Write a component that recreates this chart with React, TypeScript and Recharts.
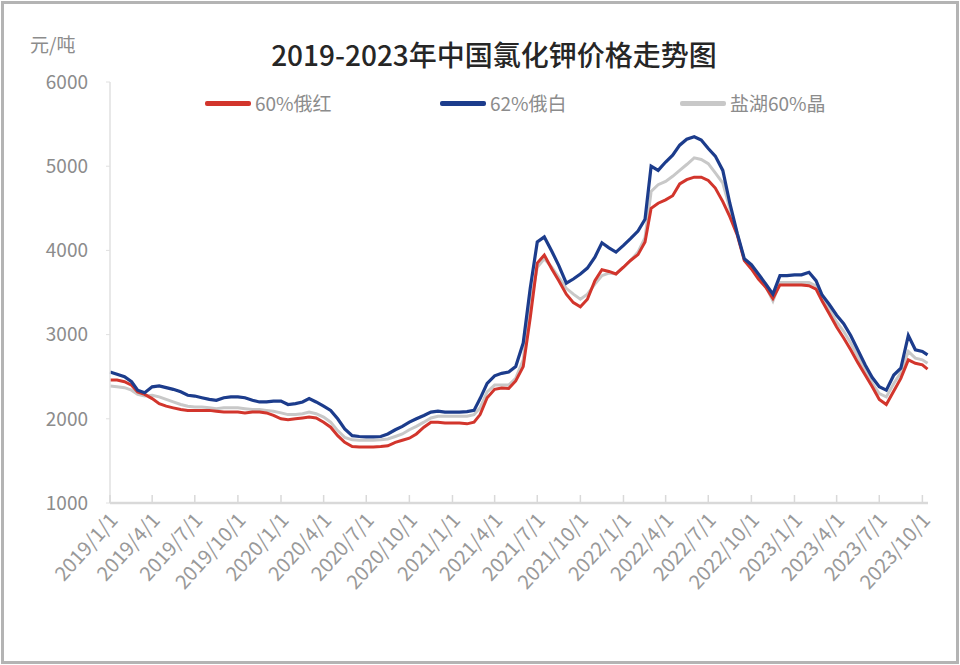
import React from "react";
import { LineChart, Line, XAxis, YAxis, Legend } from "recharts";

// half-monthly price points, 元/吨
const dates = [
  "2019-01-01","2019-01-16","2019-02-01","2019-02-16","2019-03-01","2019-03-16","2019-04-01","2019-04-16","2019-05-01","2019-05-16","2019-06-01","2019-06-16",
  "2019-07-01","2019-07-16","2019-08-01","2019-08-16","2019-09-01","2019-09-16","2019-10-01","2019-10-16","2019-11-01","2019-11-16","2019-12-01","2019-12-16",
  "2020-01-01","2020-01-16","2020-02-01","2020-02-16","2020-03-01","2020-03-16","2020-04-01","2020-04-16","2020-05-01","2020-05-16","2020-06-01","2020-06-16",
  "2020-07-01","2020-07-16","2020-08-01","2020-08-16","2020-09-01","2020-09-16","2020-10-01","2020-10-16","2020-11-01","2020-11-16","2020-12-01","2020-12-16",
  "2021-01-01","2021-01-16","2021-02-01","2021-02-16","2021-03-01","2021-03-16","2021-04-01","2021-04-16","2021-05-01","2021-05-16","2021-06-01","2021-06-16",
  "2021-07-01","2021-07-16","2021-08-01","2021-08-16","2021-09-01","2021-09-16","2021-10-01","2021-10-16","2021-11-01","2021-11-16","2021-12-01","2021-12-16",
  "2022-01-01","2022-01-16","2022-02-01","2022-02-16","2022-03-01","2022-03-16","2022-04-01","2022-04-16","2022-05-01","2022-05-16","2022-06-01","2022-06-16",
  "2022-07-01","2022-07-16","2022-08-01","2022-08-16","2022-09-01","2022-09-16","2022-10-01","2022-10-16","2022-11-01","2022-11-16","2022-12-01","2022-12-16",
  "2023-01-01","2023-01-16","2023-02-01","2023-02-16","2023-03-01","2023-03-16","2023-04-01","2023-04-16","2023-05-01","2023-05-16","2023-06-01","2023-06-16",
  "2023-07-01","2023-07-16","2023-08-01","2023-08-16","2023-09-01","2023-09-16","2023-10-01","2023-10-12",
];

// 60%俄红
const red = [
  2460,2460,2440,2400,2320,2290,2240,2180,2150,2130,2110,2100,2100,2100,2100,2090,2080,2080,2080,2070,2080,2080,2070,2040,
  2000,1990,2000,2010,2020,2010,1960,1900,1800,1720,1670,1665,1665,1665,1670,1680,1720,1745,1770,1820,1900,1960,1960,1950,
  1950,1950,1940,1960,2050,2250,2350,2365,2360,2450,2620,3200,3850,3945,3780,3640,3480,3380,3330,3420,3640,3770,3750,3720,
  3800,3880,3950,4100,4500,4560,4600,4650,4790,4840,4870,4870,4830,4740,4580,4400,4180,3880,3780,3660,3560,3430,3590,3590,
  3590,3590,3580,3540,3400,3250,3090,2960,2820,2670,2520,2380,2230,2170,2330,2480,2700,2660,2640,2590,
];

// 62%俄白
const blue = [
  2556,2530,2500,2440,2340,2310,2380,2390,2370,2350,2320,2280,2270,2250,2230,2220,2250,2260,2260,2250,2220,2200,2200,2210,
  2210,2170,2180,2200,2240,2200,2150,2100,2000,1880,1800,1790,1785,1785,1790,1820,1870,1910,1960,2000,2040,2080,2090,2080,
  2080,2080,2085,2100,2240,2420,2510,2540,2555,2620,2900,3550,4100,4160,3990,3820,3610,3660,3720,3790,3920,4090,4030,3980,
  4060,4140,4230,4370,5000,4950,5050,5130,5250,5320,5350,5310,5210,5120,4950,4560,4200,3900,3830,3720,3600,3480,3700,3700,
  3710,3710,3740,3640,3470,3360,3230,3130,2990,2820,2640,2490,2380,2340,2520,2600,2990,2820,2800,2760,
];

// 盐湖60%晶
const gray = [
  2390,2380,2370,2340,2290,2270,2280,2260,2230,2200,2170,2150,2140,2140,2130,2120,2130,2130,2130,2120,2110,2110,2100,2090,
  2070,2050,2050,2060,2080,2060,2020,1960,1860,1780,1750,1745,1745,1745,1750,1760,1790,1820,1870,1910,1960,2010,2030,2030,
  2030,2030,2030,2050,2130,2320,2400,2400,2400,2480,2700,3350,3800,3900,3800,3680,3550,3480,3420,3480,3600,3700,3730,3720,
  3800,3880,3980,4150,4700,4780,4820,4880,4950,5020,5100,5080,5030,4920,4800,4500,4200,3880,3790,3690,3570,3400,3620,3620,
  3620,3620,3620,3580,3430,3300,3150,3040,2900,2740,2580,2420,2300,2260,2420,2550,2800,2720,2700,2660,
];

const tickLabels = [
  "2019/1/1","2019/4/1","2019/7/1","2019/10/1","2020/1/1","2020/4/1","2020/7/1","2020/10/1",
  "2021/1/1","2021/4/1","2021/7/1","2021/10/1","2022/1/1","2022/4/1","2022/7/1","2022/10/1",
  "2023/1/1","2023/4/1","2023/7/1","2023/10/1",
];
const yTicks = [1000, 2000, 3000, 4000, 5000, 6000];

const series = [
  { key: "red", name: "60%俄红", color: "#d2352c" },
  { key: "blue", name: "62%俄白", color: "#1c3c8c" },
  { key: "gray", name: "盐湖60%晶", color: "#c8c8c8" },
];

const FONT = '"Noto Sans CJK SC", "Noto Sans", sans-serif';

const toDay = (s: string) => {
  const [y, m, d] = s.split(/[-/]/).map(Number);
  return (Date.UTC(y, m - 1, d) - Date.UTC(2019, 0, 1)) / 86400000;
};

const tickDays = tickLabels.map(toDay);
const endDay = toDay("2023-10-13");

const data = dates.map((d, i) => ({ t: toDay(d), red: red[i], blue: blue[i], gray: gray[i] }));

const XTick = (props: any) => {
  const { x, y, payload } = props;
  const idx = tickDays.indexOf(payload.value);
  const label = idx >= 0 ? tickLabels[idx] : "";
  const tx = x + 9;
  const ty = y + 18;
  return (
    <g>
      <line x1={x} x2={x} y1={y} y2={y - 8} stroke="#d9d9d9" strokeWidth={1.5} />
      <text x={tx} y={ty} transform={`rotate(-48, ${tx}, ${ty})`} textAnchor="end" fill="#999999" fontSize={20} fontFamily={FONT}>
        {label}
      </text>
    </g>
  );
};

const legendPos = [205, 440, 680];

const LegendContent = () => (
  <div style={{ position: "relative", width: 960, height: 26 }}>
    {series.map((s, i) => (
      <div key={s.key} style={{ position: "absolute", left: legendPos[i], top: 0, display: "flex", alignItems: "center", height: 26 }}>
        <div style={{ width: 46, height: 5, background: s.color, borderRadius: 2, marginRight: 4 }} />
        <span style={{ fontFamily: FONT, fontSize: 19, color: "#8c8c8c", lineHeight: "26px" }}>{s.name}</span>
      </div>
    ))}
  </div>
);

export default function App() {
  return (
    <div style={{ position: "absolute", left: 0, top: 0, width: 960, height: 665, background: "#fff" }}>
      <div style={{ position: "absolute", left: 1, top: 1, width: 952, height: 657, border: "3px solid #b4b4b4" }} />
      <div style={{ position: "absolute", left: 0, top: 34, width: 988, textAlign: "center", fontFamily: FONT, fontSize: 28, fontWeight: 500, color: "#262626" }}>
        2019-2023年中国氯化钾价格走势图
      </div>
      <div style={{ position: "absolute", left: 30, top: 30, fontFamily: FONT, fontSize: 19, color: "#8c8c8c" }}>元/吨</div>
      <LineChart width={960} height={665} data={data} margin={{ top: 82, right: 32, bottom: 102, left: 0 }} style={{ position: "absolute", left: 0, top: 0 }}>
        <XAxis
          type="number"
          dataKey="t"
          domain={[0, endDay]}
          ticks={tickDays}
          interval={0}
          height={60}
          tickSize={0}
          tickMargin={0}
          axisLine={{ stroke: "#d9d9d9", strokeWidth: 2.5 }}
          tickLine={false}
          tick={<XTick />}
        />
        <YAxis
          domain={[1000, 6000]}
          ticks={yTicks}
          interval={0}
          width={110}
          tickSize={4}
          tickMargin={18}
          axisLine={{ stroke: "#e0e0e0", strokeWidth: 1.5 }}
          tickLine={{ stroke: "#e0e0e0" }}
          tick={{ fill: "#8c8c8c", fontSize: 19, fontFamily: FONT }}
        />
        <Legend verticalAlign="middle" align="center" layout="horizontal" content={<LegendContent />} wrapperStyle={{ top: 90, left: 0, width: 960 }} />
        <Line type="linear" dataKey="gray" stroke="#c8c8c8" strokeWidth={3} dot={false} isAnimationActive={false} />
        <Line type="linear" dataKey="red" stroke="#d2352c" strokeWidth={3} dot={false} isAnimationActive={false} />
        <Line type="linear" dataKey="blue" stroke="#1c3c8c" strokeWidth={3.2} dot={false} isAnimationActive={false} />
      </LineChart>
    </div>
  );
}
